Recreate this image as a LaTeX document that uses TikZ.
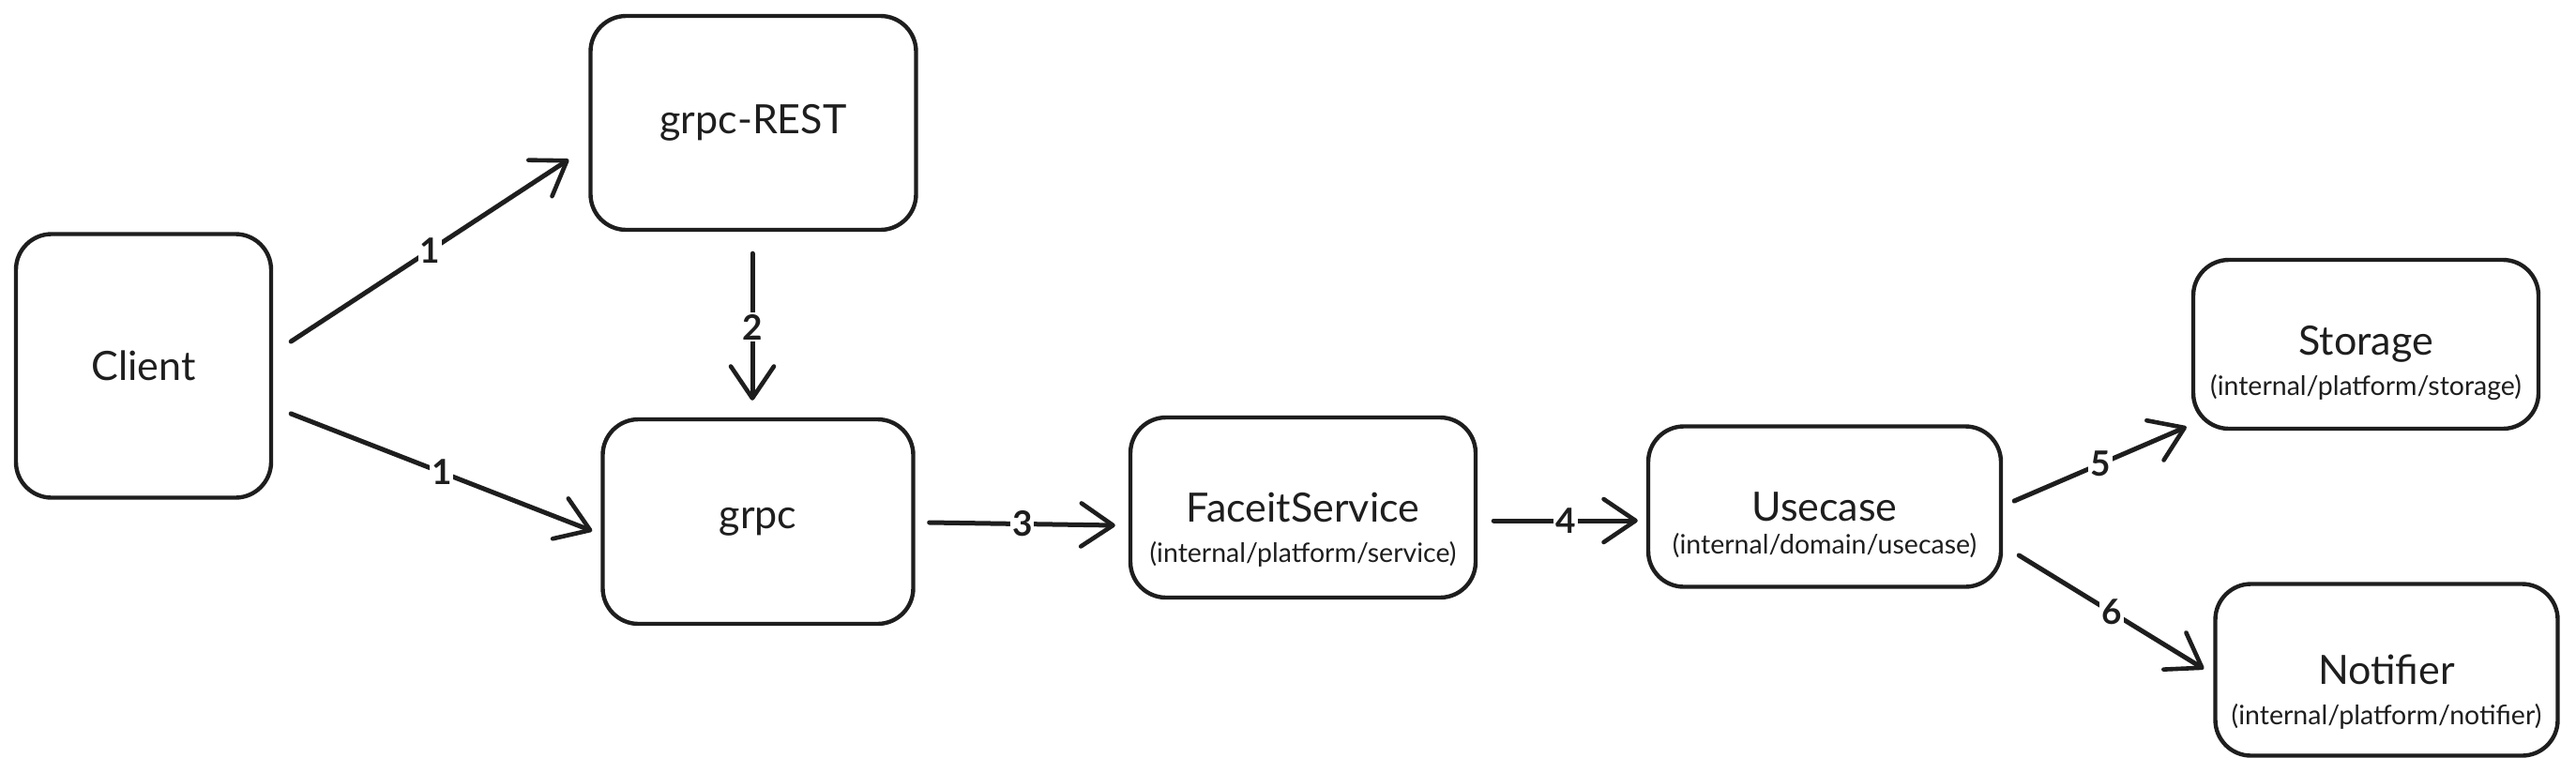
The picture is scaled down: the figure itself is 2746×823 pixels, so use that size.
\documentclass[tikz,border=0pt]{standalone}
\usepackage{fontspec}
\setmainfont{Lato}
\usetikzlibrary{arrows.meta,calc}
\definecolor{ink}{HTML}{1E1E1E}
\newcommand{\ttlfont}{\fontsize{43}{50}\selectfont}
\newcommand{\subfont}{\fontsize{28.5}{32}\selectfont}
\newcommand{\lblfont}{\fontsize{37}{42}\selectfont\bfseries}
\begin{document}
\begin{tikzpicture}[x=1pt,y=-1pt,
  box/.style={draw=ink, line width=4.4pt, rounded corners=38pt, inner sep=0pt, align=center, font=\ttlfont, text=ink},
  sub/.style={font=\subfont, text=ink, inner sep=0pt},
  conn/.style={draw=ink, line width=5pt, line cap=round, -{Straight Barb[length=34pt,width=46pt,line width=4.6pt,round]}},
  lbl/.style={fill=white, font=\lblfont, text=ink, inner sep=2pt}]
\fill[white] (0,0) rectangle (2746,823);
\useasboundingbox (0,0) rectangle (2746,823);

\node[box, minimum width=272pt, minimum height=281pt] (client) at (153,390) {Client};
\node[box, minimum width=347pt, minimum height=228pt] (rest) at (803,131) {grpc-REST};
\node[box, minimum width=331pt, minimum height=218pt] (grpc) at (808,556) {grpc};
\node[box, minimum width=368pt, minimum height=192pt] (faceit) at (1389,541) {FaceitService};
\node[sub] (faceitsub) at ($(faceit.center)+(0,50)$) {(internal/platform/service)};
\node[box, minimum width=376pt, minimum height=171pt] (usecase) at (1945,540) {Usecase};
\node[sub] (usecasesub) at ($(usecase.center)+(0,42)$) {(internal/domain/usecase)};
\node[box, minimum width=368pt, minimum height=180pt] (storage) at (2522,367) {Storage};
\node[sub] (storagesub) at ($(storage.center)+(0,46)$) {(internal/platform/storage)};
\node[box, minimum width=365pt, minimum height=183pt] (notifier) at (2544,714) {Notifier};
\node[sub] (notifiersub) at ($(notifier.center)+(0,50)$) {(internal/platform/notifier)};

\draw[conn] ($(client.east)+(19,-26)$) -- node[lbl]{1} ($(rest.west)+(-21,39)$);
\draw[conn] ($(client.east)+(19,51)$) -- node[lbl]{1} ($(grpc.west)+(-9,10)$);
\draw[conn] ($(rest.south)+(-1,23)$) -- node[lbl]{2} ($(grpc.north)+(-6,-18)$);
\draw[conn] ($(grpc.east)+(15,1)$) -- node[lbl]{3} ($(faceit.west)+(-14,19)$);
\draw[conn] ($(faceit.east)+(17,14)$) -- node[lbl]{4} ($(usecase.west)+(-9,15)$);
\draw[conn] ($(usecase.east)+(12,-6)$) -- node[lbl]{5} ($(storage.west)+(-5,88)$);
\draw[conn] ($(usecase.east)+(17,52)$) -- node[lbl]{6} ($(notifier.west)+(-10,-1)$);
\end{tikzpicture}
\end{document}
